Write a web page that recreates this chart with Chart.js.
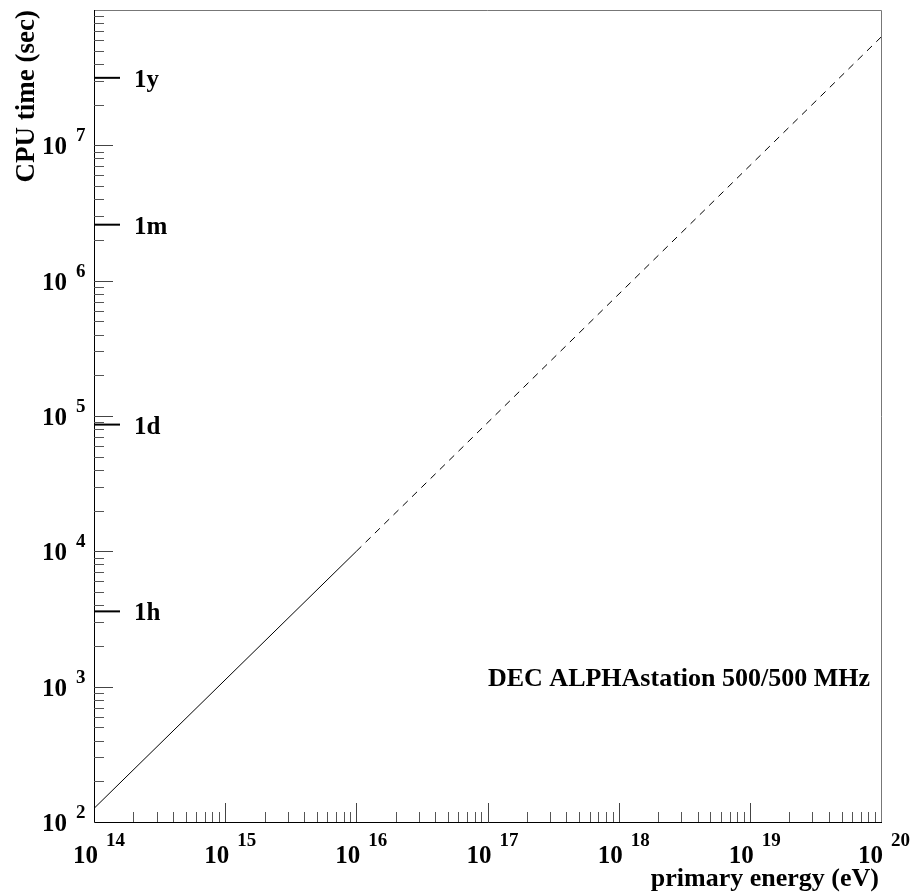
<!DOCTYPE html>
<html>
<head>
<meta charset="utf-8">
<script src="https://cdn.jsdelivr.net/npm/chart.js@4/dist/chart.umd.min.js"></script>
<style>
  html, body { margin: 0; padding: 0; background: #fff; }
  #wrap { width: 917px; height: 894px; position: relative; }
</style>
</head>
<body>
<div id="wrap"><canvas id="c" width="917" height="894"></canvas></div>
<script>
// ---- data ----
const xTickExponents = [14, 15, 16, 17, 18, 19, 20];
const yTickExponents = [2, 3, 4, 5, 6, 7];
const solidEnergy = [1e14, 1e16];
const solidTime = [126, 1.0e4];
const dashedEnergy = [1e16, 1e20];
const dashedTime = [1.0e4, 6.3e7];
const markLabels = ['1h', '1d', '1m', '1y'];
const markValues = [3600, 86400, 2592000, 31536000];
const xTitle = 'primary energy (eV)';
const yTitle = 'CPU time (sec)';
const noteText = 'DEC ALPHAstation 500/500 MHz';
const xRange = [1e14, 1e20];
const yRange = [1e2, 1e8];

const FONT = '"Liberation Serif", "Times New Roman", serif';

function pts(xs, ys) { return xs.map((x, i) => ({ x: x, y: ys[i] })); }

const decor = {
  id: 'decor',
  afterDraw(chart) {
    const ctx = chart.ctx;
    const a = chart.chartArea;
    const xs = chart.scales.x, ys = chart.scales.y;
    ctx.save();
    // frame
    ctx.lineWidth = 1;
    ctx.strokeStyle = '#777';
    ctx.beginPath();
    ctx.moveTo(a.left, a.top + 0.5); ctx.lineTo(a.right + 0.5, a.top + 0.5);
    ctx.lineTo(a.right + 0.5, a.bottom);
    ctx.stroke();
    ctx.strokeStyle = '#000';
    ctx.beginPath();
    ctx.moveTo(a.left + 0.5, a.top); ctx.lineTo(a.left + 0.5, a.bottom + 0.5);
    ctx.lineTo(a.right + 1, a.bottom + 0.5);
    ctx.stroke();

    // y ticks (inward)
    ctx.beginPath();
    const majY = [], minY = [];
    yTickExponents.concat([8]).forEach(e => {
      for (let m = 1; m <= 9; m++) {
        const v = m * Math.pow(10, e);
        if (v < yRange[0] || v > yRange[1] * 1.0001) continue;
        const py = Math.round(ys.getPixelForValue(v)) + 0.5;
        if (py < a.top + 1 || py > a.bottom - 1) continue;
        (m === 1 ? majY : minY).push(py);
      }
    });
    const majX = [], minX = [];
    xTickExponents.forEach(e => {
      for (let m = 1; m <= 9; m++) {
        const v = m * Math.pow(10, e);
        if (v > xRange[1] * 1.0001) continue;
        const px = Math.round(xs.getPixelForValue(v)) + 0.5;
        if (px < a.left + 1 || px > a.right - 1) continue;
        (m === 1 ? majX : minX).push(px);
      }
    });
    ctx.strokeStyle = '#444';
    ctx.beginPath();
    majY.forEach(py => { ctx.moveTo(a.left, py); ctx.lineTo(a.left + 19, py); });
    majX.forEach(px => { ctx.moveTo(px, a.bottom); ctx.lineTo(px, a.bottom - 19); });
    ctx.stroke();
    ctx.strokeStyle = '#555';
    ctx.beginPath();
    minY.forEach(py => { ctx.moveTo(a.left, py); ctx.lineTo(a.left + 10, py); });
    minX.forEach(px => { ctx.moveTo(px, a.bottom); ctx.lineTo(px, a.bottom - 10); });
    ctx.stroke();

    // tick labels
    ctx.fillStyle = '#000';
    ctx.textBaseline = 'alphabetic';
    yTickExponents.forEach(e => {
      const py = ys.getPixelForValue(Math.pow(10, e));
      ctx.font = 'bold 25px ' + FONT;
      ctx.textAlign = 'right';
      ctx.fillText('10', 67, py + 9);
      ctx.font = 'bold 19px ' + FONT;
      ctx.textAlign = 'left';
      ctx.fillText(String(e), 76, py - 4);
    });
    xTickExponents.forEach(e => {
      const px = xs.getPixelForValue(Math.pow(10, e));
      ctx.font = 'bold 19px ' + FONT;
      const supW = ctx.measureText(String(e)).width;
      let shift = 0;
      const rightEdge = px + 12 + supW;
      if (rightEdge > 910) shift = 910 - rightEdge;
      ctx.font = 'bold 25px ' + FONT;
      ctx.textAlign = 'right';
      ctx.fillText('10', px + 4 + shift, 863);
      ctx.font = 'bold 19px ' + FONT;
      ctx.textAlign = 'left';
      ctx.fillText(String(e), px + 12 + shift, 846);
    });

    // time marks
    ctx.lineWidth = 2;
    ctx.strokeStyle = '#000';
    markValues.forEach((v, i) => {
      const py = ys.getPixelForValue(v);
      ctx.beginPath();
      ctx.moveTo(a.left, py); ctx.lineTo(a.left + 26, py);
      ctx.stroke();
      ctx.font = 'bold 25px ' + FONT;
      ctx.textAlign = 'left';
      ctx.fillText(markLabels[i], 134, py + 9);
    });

    // note
    ctx.font = 'bold 26px ' + FONT;
    ctx.textAlign = 'right';
    ctx.fillText(noteText, 870, 686);

    // axis titles
    ctx.font = 'bold 26px ' + FONT;
    ctx.textAlign = 'right';
    ctx.fillText(xTitle, 879, 886);
    ctx.save();
    ctx.translate(34, 10);
    ctx.rotate(-Math.PI / 2);
    ctx.font = 'bold 27px ' + FONT;
    ctx.textAlign = 'right';
    ctx.fillText(yTitle, 0, 0);
    ctx.restore();

    ctx.restore();
  }
};

new Chart(document.getElementById('c'), {
  type: 'line',
  data: {
    datasets: [
      { data: pts(solidEnergy, solidTime), borderColor: '#000', borderWidth: 1, pointRadius: 0, fill: false, tension: 0 },
      { data: pts(dashedEnergy, dashedTime), borderColor: '#000', borderWidth: 1, borderDash: [7, 6], pointRadius: 0, fill: false, tension: 0 }
    ]
  },
  options: {
    responsive: false,
    devicePixelRatio: 1,
    animation: false,
    events: [],
    layout: { padding: { left: 94, right: 36, top: 10, bottom: 72 } },
    plugins: { legend: { display: false }, tooltip: { enabled: false } },
    scales: {
      x: { type: 'logarithmic', min: xRange[0], max: xRange[1], display: false, bounds: 'data' },
      y: { type: 'logarithmic', min: yRange[0], max: yRange[1], display: false, bounds: 'data' }
    }
  },
  plugins: [decor]
});
</script>
</body>
</html>
